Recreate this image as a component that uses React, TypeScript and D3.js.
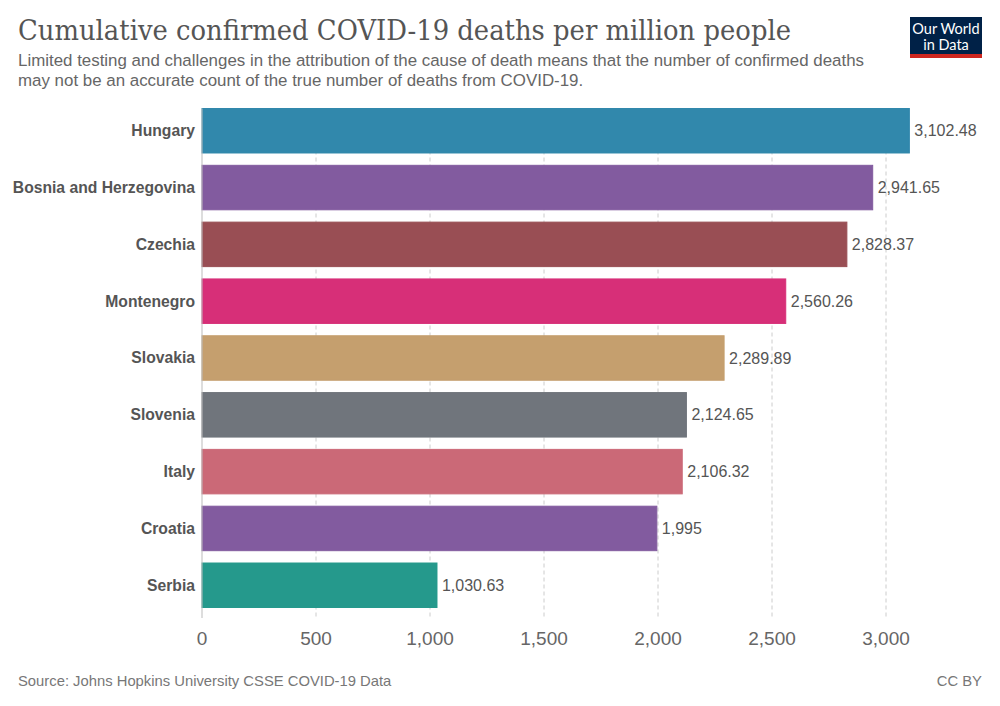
import React from "react";
import * as d3 from "d3";

const countries = ["Hungary", "Bosnia and Herzegovina", "Czechia", "Montenegro", "Slovakia", "Slovenia", "Italy", "Croatia", "Serbia"];
const values = [3102.48, 2941.65, 2828.37, 2560.26, 2289.89, 2124.65, 2106.32, 1995, 1030.63];
const valueLabels = ["3,102.48", "2,941.65", "2,828.37", "2,560.26", "2,289.89", "2,124.65", "2,106.32", "1,995", "1,030.63"];
const colors = ["#3188ac", "#825b9f", "#994e54", "#d72f78", "#c59f6e", "#70757c", "#cb6977", "#825b9f", "#25998c"];
const ticks = [0, 500, 1000, 1500, 2000, 2500, 3000];

export default function App() {
  const W = 1000, H = 706;
  const x = d3.scaleLinear().domain([0, 3000]).range([202, 886]);
  const y = d3.scaleBand<string>().domain(countries).range([108.5, 607.5]).paddingInner(0.217).paddingOuter(0);
  const fmt = d3.format(",");
  const sans = "'Liberation Sans', Arial, sans-serif";
  return (
    <svg width={W} height={H} style={{ position: "absolute", left: 0, top: 0, background: "#fff" }}>
      <rect x={0} y={0} width={W} height={H} fill="#fff" />
      <text x={18} y={40} fontFamily="'DejaVu Serif', Georgia, serif" fontSize={27} fill="#555" textLength={773} lengthAdjust="spacingAndGlyphs">Cumulative confirmed COVID-19 deaths per million people</text>
      <text x={18} y={66} fontFamily={sans} fontSize={16.9} fill="#666">Limited testing and challenges in the attribution of the cause of death means that the number of confirmed deaths</text>
      <text x={18} y={86} fontFamily={sans} fontSize={16.9} fill="#666">may not be an accurate count of the true number of deaths from COVID-19.</text>
      <g>
        <rect x={910} y={17} width={72} height={41} fill="#002147" />
        <rect x={910} y={54} width={72} height={4} fill="#ce261e" />
        <text x={946} y={34} textAnchor="middle" fontFamily="Lato, sans-serif" fontSize={14.5} fill="#fff">Our World</text>
        <text x={946} y={50} textAnchor="middle" fontFamily="Lato, sans-serif" fontSize={14.5} fill="#fff">in Data</text>
      </g>
      {ticks.filter(t => t > 0).map(t => (
        <line key={t} x1={x(t)} x2={x(t)} y1={y(countries[0])!} y2={618} stroke="#ccc" strokeDasharray="4,3" />
      ))}
      {countries.map((c, i) => (
        <g key={c}>
          <rect x={x(0)} y={y(c)!} width={x(values[i]) - x(0)} height={y.bandwidth()} fill={colors[i]} stroke={colors[i]} strokeWidth={1} />
          <text x={195} y={y(c)! + y.bandwidth() / 2} dy="0.35em" textAnchor="end" fontFamily={sans} fontWeight="bold" fontSize={15.7} fill="#555">{c}</text>
          <text x={x(values[i]) + 5} y={y(c)! + y.bandwidth() / 2} dy="0.35em" fontFamily={sans} fontSize={16} fill="#555">{valueLabels[i]}</text>
        </g>
      ))}
      <line x1={x(0)} x2={x(0)} y1={y(countries[0])!} y2={618} stroke="#bbb" />
      {ticks.map(t => (
        <text key={t} x={x(t)} y={645} textAnchor="middle" fontFamily={sans} fontSize={19} fill="#666">{fmt(t)}</text>
      ))}
      <text x={18} y={686} fontFamily={sans} fontSize={14.8} fill="#777">Source: Johns Hopkins University CSSE COVID-19 Data</text>
      <text x={982} y={686} textAnchor="end" fontFamily={sans} fontSize={14.8} fill="#777">CC BY</text>
    </svg>
  );
}
